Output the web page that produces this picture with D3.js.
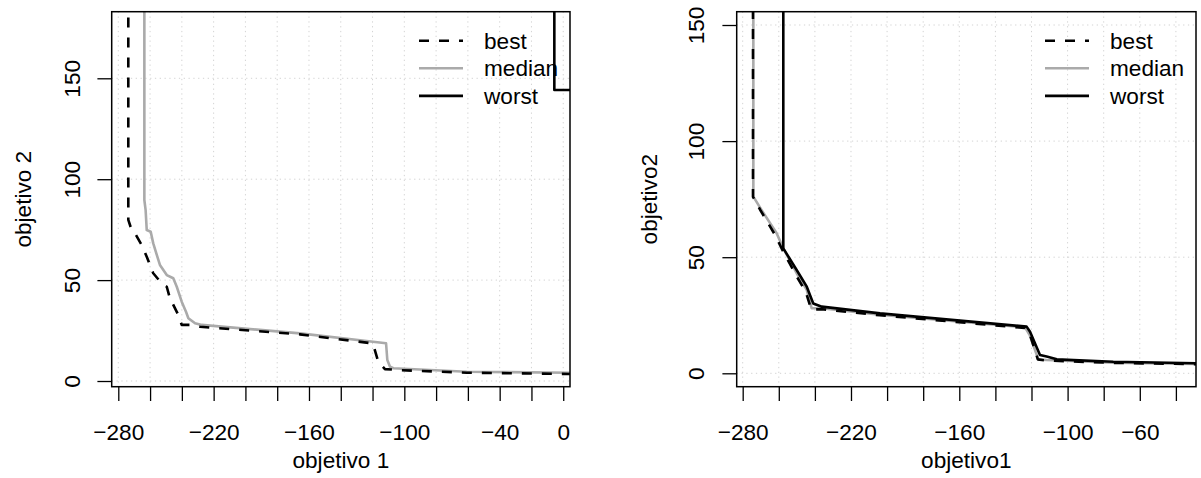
<!DOCTYPE html>
<html>
<head>
<meta charset="utf-8">
<script src="https://cdn.jsdelivr.net/npm/d3@7"></script>
<style>
  body { margin: 0; background: #fff; }
  svg { display: block; font-family: "Liberation Sans", Arial, Helvetica, sans-serif; }
</style>
</head>
<body>
<div id="container"></div>
<script>
const w = 1201;
const h = 478;

const seriesNames = ['best', 'median', 'worst'];

// left panel
const leftXTicks = [-280, -260, -240, -220, -200, -180, -160, -140, -120, -100, -80, -60, -40, -20, 0];
const leftXLabels = [-280, -220, -160, -100, -40, 0];
const leftYTicks = [0, 50, 100, 150];

const leftBest = [
  [-273.7, 200], [-273.7, 79.8], [-271.6, 74.8], [-269.5, 73.2], [-265.3, 67.4],
  [-262.1, 61.6], [-258, 53.4], [-252.7, 48.4], [-249.5, 46.7], [-247.5, 41],
  [-243.2, 34.3], [-242.2, 32.7], [-240.1, 27.8], [-234.9, 27.8], [-228.6, 26.9],
  [-165.7, 23.1], [-120.5, 18.7], [-119.5, 17.8], [-116.4, 9.6], [-112.2, 5.9],
  [-108, 5.7], [-102.7, 5.4], [-60.7, 4.1], [4.2, 3.5]
];
const leftMedian = [
  [-263.6, 200], [-263.6, 89.7], [-262.8, 84.7], [-262.1, 74.8], [-259.6, 74],
  [-258, 68.2], [-254.8, 60], [-253.8, 57.5], [-249.5, 52.5], [-245.4, 50.9],
  [-243.2, 46.7], [-240.1, 39.3], [-237.4, 34.3], [-235.9, 31.1], [-231.7, 28.6],
  [-227.5, 27.8], [-165.7, 23.6], [-111.5, 18.7], [-110.7, 10.4], [-109, 7.1],
  [-106.9, 6.3], [-60.7, 4.6], [4.2, 4.1]
];
const leftWorst = [[-5.6, 200], [-5.6, 144.2], [10, 144.2]];

// right panel
const rightXTicks = [-280, -260, -240, -220, -200, -180, -160, -140, -120, -100, -80, -60, -40];
const rightXLabels = [-280, -220, -160, -100, -60];
const rightYTicks = [0, 50, 100, 150];

const rightBest = [
  [-274.3, 200], [-274.3, 76], [-270, 70], [-262, 59.5], [-257.8, 52.8],
  [-250.5, 42.3], [-245, 35], [-242, 27.5], [-236, 27.6], [-204, 25],
  [-123.8, 19.5], [-121, 17], [-116.5, 6], [-111.6, 5.5], [-74.7, 4.5], [-25, 3.9]
];
const rightMedian = [
  [-274.1, 200], [-274.1, 76.1], [-269.5, 70.3], [-261.2, 60.3], [-257.5, 53.8],
  [-250.1, 43.1], [-244.5, 35.9], [-241.8, 28], [-236.2, 28], [-203.9, 25.2],
  [-123.6, 19.8], [-121, 16.5], [-116.2, 6], [-111.6, 5.7], [-74.7, 4.6], [-25, 4]
];
const rightWorst = [
  [-257.5, 200], [-257.5, 53.8], [-250.1, 44.5], [-244.5, 37.3], [-240.9, 30.1],
  [-236.2, 28.7], [-203.9, 25.8], [-122.7, 20.1], [-120.8, 17.9], [-115.3, 7.9],
  [-111.6, 7.2], [-106, 6], [-74.7, 5], [-25, 4.3]
];

const styles = {
  best: { color: '#000', dash: '10,10', width: 2.6 },
  median: { color: '#aaaaaa', dash: null, width: 2.6 },
  worst: { color: '#000', dash: null, width: 2.6 }
};

const fontSize = 22.6;

const svg = d3.select('#container')
  .append('svg')
    .attr('width', w)
    .attr('height', h)
    .attr('viewBox', [0, 0, w, h]);

function drawPanel(cfg) {
  const x = d3.scaleLinear().domain(cfg.xDomain).range([cfg.left, cfg.right]);
  const y = d3.scaleLinear().domain(cfg.yDomain).range([cfg.bottom, cfg.top]);

  const g = svg.append('g');

  g.append('clipPath')
    .attr('id', cfg.id + '-clip')
    .append('rect')
      .attr('x', cfg.left)
      .attr('y', cfg.top)
      .attr('width', cfg.right - cfg.left)
      .attr('height', cfg.bottom - cfg.top);

  // dotted grid
  g.append('g')
    .selectAll('line')
    .data(cfg.xTicks)
    .enter()
    .append('line')
      .attr('x1', d => x(d))
      .attr('x2', d => x(d))
      .attr('y1', cfg.top)
      .attr('y2', cfg.bottom)
      .attr('stroke', '#d3d3d3')
      .attr('stroke-dasharray', '1.3,3.5');

  g.append('g')
    .selectAll('line')
    .data(cfg.yTicks)
    .enter()
    .append('line')
      .attr('x1', cfg.left)
      .attr('x2', cfg.right)
      .attr('y1', d => y(d))
      .attr('y2', d => y(d))
      .attr('stroke', '#d3d3d3')
      .attr('stroke-dasharray', '1.3,3.5');

  const line = d3.line()
    .x(d => x(d[0]))
    .y(d => y(d[1]));

  g.append('g')
    .attr('clip-path', 'url(#' + cfg.id + '-clip)')
    .selectAll('path')
    .data(cfg.series)
    .enter()
    .append('path')
      .attr('d', d => line(d.values))
      .attr('fill', 'none')
      .attr('stroke', d => styles[d.name].color)
      .attr('stroke-width', d => styles[d.name].width)
      .attr('stroke-dasharray', d => styles[d.name].dash)
      .attr('stroke-linejoin', 'round');

  // axes
  const xAxis = d3.axisBottom(x)
    .tickValues(cfg.xTicks)
    .tickSize(14.3)
    .tickFormat(d => cfg.xLabels.includes(d) ? d3.format('')(d) : '');

  const gx = g.append('g')
    .attr('transform', 'translate(0,' + cfg.bottom + ')')
    .call(xAxis);
  gx.select('.domain').remove();
  gx.selectAll('line').attr('stroke', '#000').attr('stroke-width', 1.3);
  gx.selectAll('text')
    .attr('y', 440 - cfg.bottom)
    .attr('dy', null)
    .attr('fill', '#000')
    .style('font-size', fontSize + 'px');

  const yAxis = d3.axisLeft(y)
    .tickValues(cfg.yTicks)
    .tickSize(14.3)
    .tickFormat(d3.format(''));

  const gy = g.append('g')
    .attr('transform', 'translate(' + cfg.left + ',0)')
    .call(yAxis);
  gy.select('.domain').remove();
  gy.selectAll('line').attr('stroke', '#000').attr('stroke-width', 1.3);
  gy.selectAll('text')
    .attr('x', null)
    .attr('dy', null)
    .attr('text-anchor', 'middle')
    .attr('transform', 'translate(' + (cfg.yTickX - cfg.left) + ',0) rotate(-90)')
    .attr('fill', '#000')
    .style('font-size', fontSize + 'px');

  // box
  g.append('rect')
    .attr('x', cfg.left)
    .attr('y', cfg.top)
    .attr('width', cfg.right - cfg.left)
    .attr('height', cfg.bottom - cfg.top)
    .attr('fill', 'none')
    .attr('stroke', '#000')
    .attr('stroke-width', 1.5);

  // titles
  g.append('text')
    .attr('x', (cfg.left + cfg.right) / 2)
    .attr('y', 468)
    .attr('text-anchor', 'middle')
    .style('font-size', fontSize + 'px')
    .text(cfg.xTitle);

  g.append('text')
    .attr('transform', 'translate(' + cfg.yTitleX + ',' + ((cfg.top + cfg.bottom) / 2) + ') rotate(-90)')
    .attr('text-anchor', 'middle')
    .style('font-size', fontSize + 'px')
    .text(cfg.yTitle);

  // legend
  const legend = g.append('g')
    .attr('transform', 'translate(' + cfg.right + ',' + cfg.top + ')');

  const rows = legend.selectAll('g')
    .data(seriesNames)
    .enter()
    .append('g')
      .attr('transform', (d, i) => 'translate(0,' + (29 + i * 27.6) + ')');

  rows.append('line')
    .attr('x1', -151)
    .attr('x2', -107)
    .attr('stroke', d => styles[d].color)
    .attr('stroke-width', d => styles[d].width)
    .attr('stroke-dasharray', d => styles[d].dash);

  rows.append('text')
    .attr('x', -86)
    .attr('y', 7.8)
    .style('font-size', fontSize + 'px')
    .text(d => d);
}

drawPanel({
  id: 'left',
  left: 111.7, right: 570, top: 11.7, bottom: 386.7,
  xDomain: [-284.15, 4.26],
  yDomain: [-2.82, 183.0],
  xTicks: leftXTicks,
  xLabels: leftXLabels,
  yTicks: leftYTicks,
  yTickX: 79.7,
  yTitleX: 30.5,
  xTitle: 'objetivo 1',
  yTitle: 'objetivo 2',
  series: [
    { name: 'median', values: leftMedian },
    { name: 'best', values: leftBest },
    { name: 'worst', values: leftWorst }
  ]
});

drawPanel({
  id: 'right',
  left: 736.7, right: 1196, top: 11.7, bottom: 386.7,
  xDomain: [-283.32, -28.86],
  yDomain: [-5.77, 155.73],
  xTicks: rightXTicks,
  xLabels: rightXLabels,
  yTicks: rightYTicks,
  yTickX: 704,
  yTitleX: 656.5,
  xTitle: 'objetivo1',
  yTitle: 'objetivo2',
  series: [
    { name: 'median', values: rightMedian },
    { name: 'best', values: rightBest },
    { name: 'worst', values: rightWorst }
  ]
});
</script>
</body>
</html>
